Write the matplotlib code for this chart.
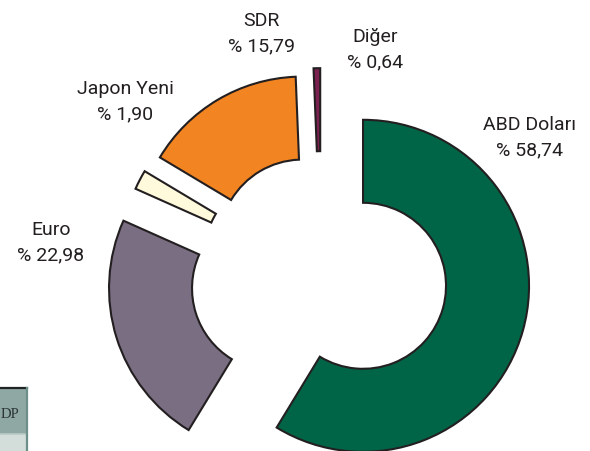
import matplotlib
matplotlib.use("Agg")
import matplotlib.pyplot as plt
from matplotlib.patches import Rectangle
from matplotlib.lines import Line2D

# ---- data ----
categories = ["ABD Doları", "Euro", "Japon Yeni", "SDR", "Diğer"]
shares = [58.74, 22.98, 1.90, 15.79, 0.64]
colors = ["#006547", "#7a6e82", "#fffadc", "#f28422", "#7b2150"]
explode = [0.263, 0.29, 0.23, 0.22, 0.24]

# label placement (pixel coords: x centre, baseline of first line)
label_pos = {
    "ABD Doları": (530, 130),
    "Euro": (51, 235),
    "Japon Yeni": (125, 94),
    "SDR": (261, 26),
    "Diğer": (375, 42),
}

W, H = 590, 452
fig = plt.figure(figsize=(W / 100, H / 100), dpi=100)
ax = fig.add_axes([0, 0, 1, 1])

# pie centre & radius in pixels
cx, cy, R = 321, 275, 166

ax.pie(shares, colors=colors, explode=explode, startangle=90,
       counterclock=False, radius=1,
       wedgeprops=dict(width=0.5, edgecolor="#231f20", linewidth=1.5,
                       joinstyle="miter"))
ax.set_aspect("auto")
ax.set_xlim(-cx / R, (W - cx) / R)
ax.set_ylim(-(H - cy) / R, cy / R)
ax.axis("off")

font = ["Roboto", "DejaVu Sans"]
txtcol = "#231f20"
for cat, val in zip(categories, shares):
    px, py = label_pos[cat]
    fig.text(px / W, 1 - py / H, cat, ha="center", va="baseline",
             fontsize=14, family=font, color=txtcol)
    fig.text(px / W, 1 - (py + 25) / H, "% " + f"{val:.2f}".replace(".", ","),
             ha="center", va="baseline", fontsize=14, family=font,
             color=txtcol)

# partial box at the bottom-left (cut-off table fragment)
def fx(p):
    return p / W

def fy(p):
    return 1 - p / H

fig.add_artist(Rectangle((0, fy(435)), fx(27), (435 - 389) / H,
                         transform=fig.transFigure, facecolor="#8fa8a3",
                         edgecolor="none"))
fig.add_artist(Rectangle((0, 0), fx(27), (452 - 435) / H,
                         transform=fig.transFigure, facecolor="#d3dedb",
                         edgecolor="none"))
fig.add_artist(Line2D([0, fx(27)], [fy(389), fy(389)],
                      transform=fig.transFigure, color="#1e2424", lw=1.6))
fig.add_artist(Line2D([0, fx(27)], [fy(435), fy(435)],
                      transform=fig.transFigure, color="#b9c9c5", lw=1.2))
fig.add_artist(Line2D([fx(27), fx(27)], [0, fy(389)],
                      transform=fig.transFigure, color="#6d8f8a", lw=1.6))
fig.text(fx(1), fy(418), "DP", ha="left", va="baseline", fontsize=10.5,
         family=["Liberation Serif", "DejaVu Serif"], color="#2a3533")

fig.savefig("out.png", dpi=100)
